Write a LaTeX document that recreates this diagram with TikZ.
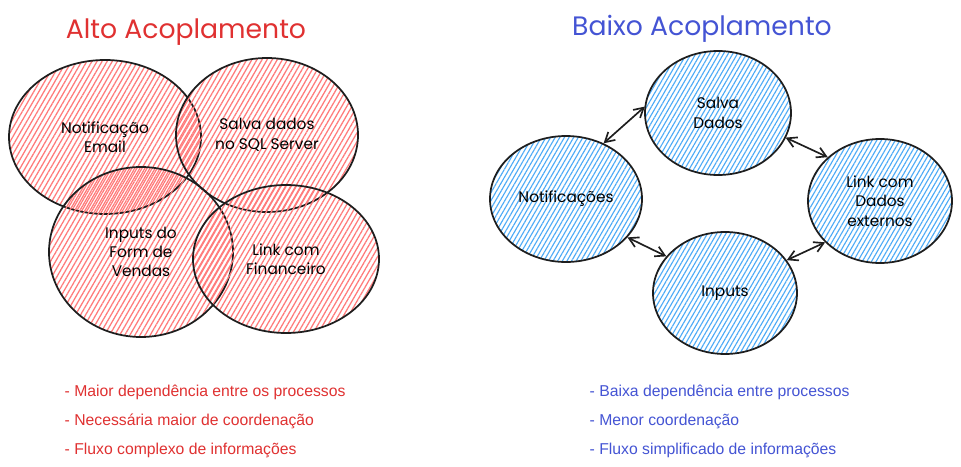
\documentclass[tikz,border=0pt]{standalone}
\usepackage{fontspec}
\setmainfont{Liberation Sans}
\newfontfamily\hand{Poppins}
\usetikzlibrary{patterns.meta,arrows.meta,shapes.geometric}
\definecolor{redtxt}{HTML}{E03131}
\definecolor{bluetxt}{HTML}{4454D4}
\definecolor{redhatch}{HTML}{FF7B7B}
\definecolor{bluehatch}{HTML}{4DABF7}
\definecolor{ink}{HTML}{1E1E1E}
\begin{document}
\begin{tikzpicture}[x=0.75pt,y=-0.75pt,
  blob/.style={ellipse, draw=ink, line width=1.3pt, inner sep=0pt, align=center,
    font=\hand\fontsize{11.5}{14.5}\selectfont},
  redblob/.style={blob, pattern={Lines[angle=60,distance=3.3pt,line width=0.95pt,xshift=#1]}, pattern color=redhatch},
  blueblob/.style={blob, pattern={Lines[angle=60,distance=3pt,line width=0.85pt,xshift=#1]}, pattern color=bluehatch},
  title/.style={font=\hand\fontsize{20}{24}\selectfont},
  bullet/.style={anchor=base west, font=\fontsize{11.8}{14}\selectfont},
  biarrow/.style={{Straight Barb[length=7pt,width=8pt]}-{Straight Barb[length=7pt,width=8pt]}, line width=1.25pt, draw=ink}
]
\fill[white] (0,0) rectangle (961,467);
\useasboundingbox (0,0) rectangle (961,467);

% ---- Alto Acoplamento ----
\node[title, text=redtxt] (t1) at (186,32) {Alto Acoplamento};
\node[redblob=0pt, minimum width=192*0.75pt, minimum height=154*0.75pt] (c1) at (105,137) {Notificação\\Email};
\node[redblob=1.1pt, minimum width=182*0.75pt, minimum height=154*0.75pt] (c2) at (267,135) {Salva dados\\no SQL Server};
\node[redblob=2.2pt, minimum width=184*0.75pt, minimum height=170*0.75pt] (c3) at (141,252) {Inputs do\\Form de\\Vendas};
\node[redblob=1.6pt, minimum width=186*0.75pt, minimum height=148*0.75pt] (c4) at (286,259) {Link com\\Financeiro};

\node[bullet, text=redtxt] (l1) at (60,396) {- Maior dependência entre os processos};
\node[bullet, text=redtxt] (l2) at (60,425) {- Necessária maior de coordenação};
\node[bullet, text=redtxt] (l3) at (60,454) {- Fluxo complexo de informações};

% ---- Baixo Acoplamento ----
\node[title, text=bluetxt] (t2) at (702,29) {Baixo Acoplamento};
\node[blueblob=0pt, minimum width=146*0.75pt, minimum height=124*0.75pt] (salva) at (718,113) {Salva\\Dados};
\node[blueblob=0pt, minimum width=152*0.75pt, minimum height=126*0.75pt] (notif) at (566,199) {Notificações};
\node[blueblob=0pt, minimum width=144*0.75pt, minimum height=124*0.75pt] (link) at (880,201) {Link com\\Dados\\externos};
\node[blueblob=0pt, minimum width=144*0.75pt, minimum height=122*0.75pt] (inputs) at (725,293) {Inputs};

\draw[biarrow] (notif.56) -- (salva.175);
\draw[biarrow] (salva.-20) -- (link.140);
\draw[biarrow] (notif.-32) -- (inputs.148);
\draw[biarrow] (inputs.28) -- (link.217);

\node[bullet, text=bluetxt] (r1) at (585,396) {- Baixa dependência entre processos};
\node[bullet, text=bluetxt] (r2) at (585,425) {- Menor coordenação};
\node[bullet, text=bluetxt] (r3) at (585,454) {- Fluxo simplificado de informações};
\end{tikzpicture}
\end{document}
